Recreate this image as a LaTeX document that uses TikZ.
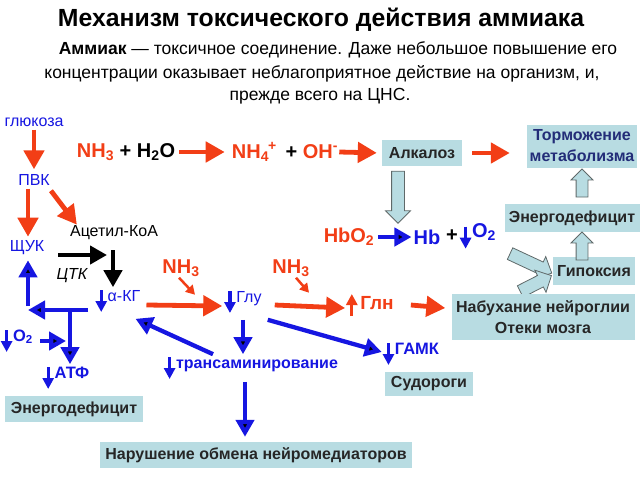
\documentclass[tikz,border=0pt]{standalone}
\usepackage{fontspec}
\setmainfont{Liberation Sans}
\usetikzlibrary{arrows.meta,shapes.arrows,positioning}

\definecolor{myred}{RGB}{242,62,22}
\definecolor{myblue}{RGB}{22,22,225}
\definecolor{boxfill}{RGB}{184,220,226}
\definecolor{navy}{RGB}{35,45,120}
\definecolor{hollowedge}{RGB}{95,105,105}

% small inline arrows in front of labels
\newcommand{\dnarr}[1][myblue]{\tikz[baseline=0pt]\draw[#1,line width=3.2pt,-{Triangle[length=11pt,width=11pt]}] (0,11pt) -- (0,-11pt);\hspace{1pt}}
\newcommand{\uparr}[1][myred]{\tikz[baseline=0pt]\draw[#1,line width=3.2pt,-{Triangle[length=11pt,width=11pt]}] (0,-7pt) -- (0,15pt);\hspace{3pt}}

\tikzset{
    redarr/.style={draw=myred, line width=4.8pt, -{Triangle[length=19pt,width=20pt]}},
    bluearr/.style={draw=myblue, line width=4.3pt, -{Triangle[length=17pt,width=18pt]}},
    blackarr/.style={draw=black, line width=4.2pt, -{Triangle[length=17pt,width=18pt]}},
    nharr/.style={draw=myred, line width=2.5pt, -{Triangle[length=9pt,width=10pt]}},
    hollow/.style={single arrow, draw=hollowedge, fill=boxfill, line width=0.8pt, inner sep=6pt,
        single arrow head extend=6pt, single arrow tip angle=90},
    infobox/.style={fill=boxfill, font=\fontsize{16}{21}\selectfont\bfseries, text=black!85,
        inner sep=0pt, align=center},
    bluetxt/.style={text=myblue, font=\fontsize{16}{18}\selectfont, inner sep=1pt},
    bluebold/.style={text=myblue, font=\fontsize{16.5}{18}\selectfont\bfseries, inner sep=1pt},
    chem/.style={font=\fontsize{20}{22}\selectfont\bfseries, inner sep=1pt}
}

\begin{document}
\begin{tikzpicture}[x=1pt, y=-1pt]
\useasboundingbox (0,0) rectangle (640,480);

% ===== heading =====
\node (title) at (321,20) {\fontsize{24.8}{28}\selectfont\bfseries Механизм токсического действия аммиака};
\node (par1) at (338,50) {\fontsize{17.5}{20}\selectfont\textbf{Аммиак} — токсичное соединение. Даже небольшое повышение его};
\node (par2) at (322,74) {\fontsize{17.5}{20}\selectfont концентрации оказывает неблагоприятное действие на организм, и,};
\node (par3) at (320,96) {\fontsize{17.5}{20}\selectfont прежде всего на ЦНС.};

% ===== left: energy metabolism =====
\node[bluetxt] (gluc) at (34,122) {глюкоза};
\node[bluetxt] (pvk) at (34,180) {ПВК};
\node[bluetxt, text=black] (acoa) at (114,233) {Ацетил-КоА};
\node[bluetxt] (shchuk) at (27,248) {ЩУК};
\node[bluetxt, text=black, font=\fontsize{16}{18}\selectfont\itshape] (ctk) at (72,276) {ЦТК};
\node[bluetxt] (akg) at (118,301) {\dnarr α-КГ};
\node[bluebold] (o2a) at (17,341) {\dnarr O\textsubscript{2}};
\node[bluebold] (atp) at (66,378) {\dnarr АТФ};
\node[infobox, minimum width=138pt, minimum height=26pt] (energy1) at (74,409) {Энергодефицит};

\coordinate (ctk1) at (58,255);
\coordinate (ctk2) at (113,250);
\coordinate (akgleft) at (88,310);
\coordinate (cyc) at (28,310);
\coordinate (atpdrop) at (70,312);

\draw[redarr] ([yshift=-2pt]gluc.south) -- ([yshift=4pt]pvk.north);
\draw[redarr] ([shift={(-6pt,-2pt)}]pvk.south) -- ([xshift=1pt,yshift=3pt]shchuk.north);
\draw[redarr] ([shift={(0pt,-4pt)}]pvk.south east) -- ([xshift=8pt]acoa.north west);
\draw[blackarr, shorten >=6pt] (ctk1) -- (ctk1 -| ctk2);
\draw[blackarr] (ctk2) -- (akg.north -| ctk2);
\draw[bluearr] (akgleft) -- (cyc);
\draw[bluearr, shorten >=4pt] ([yshift=4pt]cyc) -- (shchuk.south -| cyc);
\draw[bluearr] (atpdrop) -- (atpdrop |- atp.north);
\draw[bluearr, shorten >=4pt] ([xshift=6pt]o2a.east) -- (o2a.east -| atpdrop);

% ===== top: ammonia in water =====
\node[chem] (react) at (126,152) {\textcolor{myred}{NH\textsubscript{3}} + H\textsubscript{2}O};
\node[chem] (ions) at (285,152) {\textcolor{myred}{NH\textsubscript{4}\kern-1pt\textsuperscript{+}}\, + \textcolor{myred}{OH\textsuperscript{-}}};
\node[infobox, minimum width=80pt, minimum height=26pt] (alk) at (422,153) {Алкалоз};
\node[infobox, text=navy, minimum width=110pt, minimum height=43pt] (torm) at (582,146) {Торможение\\метаболизма};
\node[infobox, minimum width=135pt, minimum height=28pt] (energy2) at (572,218) {Энергодефицит};
\node[infobox, minimum width=82pt, minimum height=28pt] (hypox) at (594,271) {Гипоксия};
\node[chem, text=myred] (hbo2) at (349,237) {HbO\textsubscript{2}};
\node[chem, text=myblue] (hb) at (427,237) {Hb};
\node[chem] (plus) at (452,236) {+};
\node[chem, text=myblue] (o2b) at (478,237) {\dnarr O\textsubscript{2}};

\draw[redarr] ([xshift=3pt]react.east) -- ([xshift=-6pt]ions.west);
\draw[redarr, shorten >=5pt] (ions.east) -- (alk.west);
\draw[redarr, shorten <=10pt, shorten >=17pt] (alk.east) -- (alk.east -| torm.west);
\draw[bluearr] ([xshift=3pt]hbo2.east) -- ([xshift=-1pt]hb.west);

\node[hollow, rotate=-90, minimum height=52pt] (alkdown) at (398,194) {};
\node[hollow, rotate=90, minimum height=28pt, inner sep=5.5pt, single arrow head extend=5pt] (up1) at (582,186) {};
\node[hollow, rotate=90, minimum height=28pt, inner sep=5.5pt, single arrow head extend=5pt] (up2) at (582,249) {};
\node[hollow, rotate=-25, minimum height=46pt] (o2hyp) at (528,262) {};
\node[hollow, rotate=27, minimum height=35pt] (swhyp) at (533,285) {};

% ===== middle: glutamate / glutamine =====
\node[chem, text=myred] (nh3a) at (181,268) {NH\textsubscript{3}};
\node[bluetxt] (glu) at (243,302) {\dnarr Глу};
\node[chem, text=myred] (nh3b) at (291,268) {NH\textsubscript{3}};
\node[chem, text=myred, font=\fontsize{19}{21}\selectfont\bfseries] (gln) at (370,305) {\uparr Глн};
\node[infobox, minimum width=183pt, minimum height=46pt] (swell) at (543,317) {Набухание нейроглии\\Отеки мозга};
\node[bluebold] (gaba) at (411,354) {\dnarr ГАМК};
\node[infobox, minimum width=88pt, minimum height=24pt] (seiz) at (429,384) {Судороги};
\node[bluebold, font=\fontsize{16}{18}\selectfont\bfseries] (trans) at (251,368) {\dnarr трансаминирование};
\node[infobox, minimum width=312pt, minimum height=26pt] (nm) at (256,455) {Нарушение обмена нейромедиаторов};

\draw[redarr] ([xshift=5pt,yshift=-4pt]akg.east) -- ([xshift=-1pt,yshift=-4pt]glu.west);
\draw[nharr] ([xshift=-2pt]nh3a.south) -- +(16pt,-17pt);
\draw[redarr] ([xshift=12pt,yshift=-3pt]glu.east) -- ([yshift=-3pt]gln.west);
\draw[nharr] ([xshift=5pt]nh3b.south) -- +(13pt,-15pt);
\draw[redarr] ([xshift=16pt]gln.east) -- ([shift={(-6pt,9pt)}]swell.west);
\draw[bluearr] ([yshift=-4pt]glu.south) -- (glu.south |- trans.north);
\draw[bluearr] ([xshift=5pt,yshift=-4pt]glu.south east) -- ([yshift=2pt]gaba.west);
\draw[bluearr] ([xshift=-38pt]trans.north) -- ([xshift=-6pt,yshift=-4pt]akg.south east);
\draw[bluearr, shorten >=5pt] ([xshift=2pt]trans.south -| glu.south) -- ([xshift=2pt]nm.north -| glu.south);

\end{tikzpicture}
\end{document}
